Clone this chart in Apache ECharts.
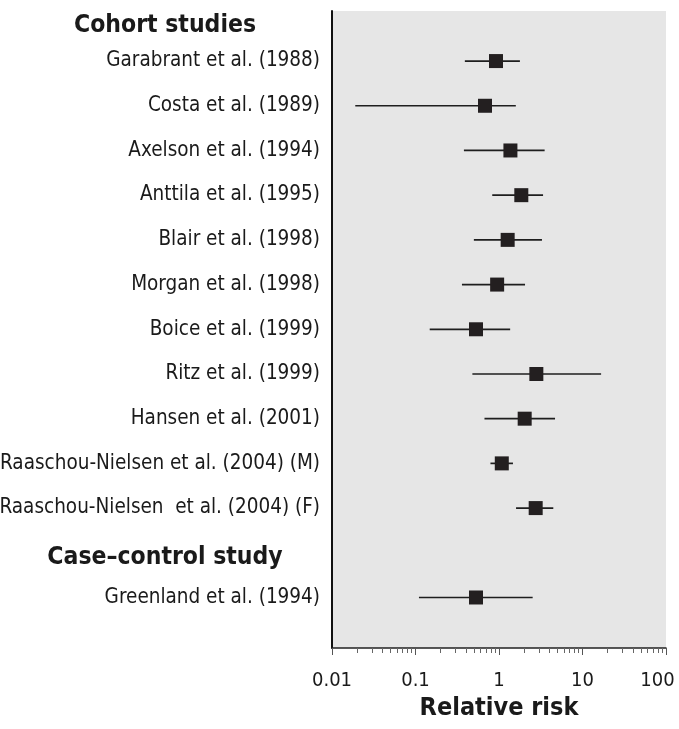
<!DOCTYPE html>
<html>
<head>
<meta charset="utf-8">
<script src="https://cdn.jsdelivr.net/npm/echarts@6/dist/echarts.min.js"></script>
<style>html,body{margin:0;padding:0;background:#fff}#c{width:679px;height:729px}</style>
</head>
<body>
<div id="c"></div>
<script>
const studies = [
  "Garabrant et al. (1988)",
  "Costa et al. (1989)",
  "Axelson et al. (1994)",
  "Anttila et al. (1995)",
  "Blair et al. (1998)",
  "Morgan et al. (1998)",
  "Boice et al. (1999)",
  "Ritz et al. (1999)",
  "Hansen et al. (2001)",
  "Raaschou-Nielsen et al. (2004) (M)",
  "Raaschou-Nielsen  et al. (2004) (F)",
  "Greenland et al. (1994)"
];
const rows = [1, 2, 3, 4, 5, 6, 7, 8, 9, 10, 11, 13];
const rr    = [0.92, 0.68, 1.37, 1.85, 1.27, 0.95, 0.53, 2.80, 2.03, 1.08, 2.75, 0.53];
const lower = [0.39, 0.019, 0.38, 0.83, 0.50, 0.36, 0.148, 0.48, 0.67, 0.79, 1.60, 0.11];
const upper = [1.78, 1.59, 3.52, 3.37, 3.27, 2.05, 1.36, 16.7, 4.69, 1.47, 4.47, 2.53];
const headings = ["Cohort studies", "Case\u2013control study"];
const headingRows = [0, 12];
const majorTicks = [0.01, 0.1, 1, 10, 100];
const minorTicks = [0.02,0.03,0.04,0.05,0.06,0.07,0.08,0.09,
                    0.2,0.3,0.4,0.5,0.6,0.7,0.8,0.9,
                    2,3,4,5,6,7,8,9,
                    20,30,40,50,60,70,80,90];

const FONT = "'Liberation Sans Narrow', 'DejaVu Sans Condensed', 'Roboto Condensed', Roboto, sans-serif";
const TXT = '#1a1a1a';

const chart = echarts.init(document.getElementById('c'), null, {renderer: 'canvas'});
const ciData = rows.map((r, i) => [lower[i], upper[i], rr[i], r]);
const headingOffsets = [[-167, 9], [-167, 5]];
chart.setOption({
  animation: false,
  backgroundColor: '#fff',
  grid: {left: 332, right: 13, top: 11, bottom: 81, show: true, backgroundColor: '#e6e6e6', borderWidth: 0,
         outerBoundsMode: 'none', containLabel: false},
  xAxis: [{
    type: 'log', logBase: 10, min: 0.01, max: 100, position: 'bottom',
    axisLine: {show: true, onZero: false, lineStyle: {color: '#222', width: 1.5}},
    axisTick: {show: true, length: 7, lineStyle: {color: '#555', width: 1}},
    axisLabel: {fontSize: 20, color: TXT, fontFamily: FONT, margin: 23,
      formatter: v => (v === majorTicks[majorTicks.length - 1] ? String(v) + '\u00a0\u00a0\u00a0' : String(v))},
    splitLine: {show: false},
    name: 'Relative risk', nameLocation: 'middle', nameGap: 43,
    nameTextStyle: {fontSize: 25, fontWeight: 'bold', color: TXT, fontFamily: FONT}
  }, {
    type: 'value', min: -2, max: 2, position: 'top', offset: -637,
    axisLine: {show: false},
    axisTick: {show: true, inside: true, length: 5, customValues: minorTicks.map(v => Math.log10(v)), lineStyle: {color: '#666', width: 1}},
    axisLabel: {show: false},
    splitLine: {show: false}
  }],
  yAxis: {
    type: 'value', inverse: true, min: -0.12, max: 14.13,
    axisLine: {show: true, onZero: false, lineStyle: {color: '#111', width: 2}},
    axisTick: {show: false}, axisLabel: {show: false}, splitLine: {show: false}
  },
  series: [{
    type: 'custom',
    xAxisIndex: 0,
    data: ciData,
    renderItem: function (params, api) {
      const lo = api.coord([api.value(0), api.value(3)]);
      const hi = api.coord([api.value(1), api.value(3)]);
      const c = api.coord([api.value(2), api.value(3)]);
      const s = 14;
      return {type: 'group', children: [
        {type: 'line', shape: {x1: lo[0], y1: lo[1], x2: hi[0], y2: hi[1]}, style: {stroke: '#1e1e1e', lineWidth: 1.7}},
        {type: 'rect', shape: {x: c[0] - s/2, y: c[1] - s/2, width: s, height: s}, style: {fill: '#231f20'}}
      ]};
    },
    encode: {x: [0, 1, 2], y: 3}
  }, {
    type: 'scatter', xAxisIndex: 0, symbolSize: 0,
    data: rows.map((r, i) => ({value: [0.01, r], name: studies[i]})),
    itemStyle: {opacity: 1},
    label: {show: true, position: 'left', distance: 12, formatter: p => p.name,
      fontSize: 20.5, color: TXT, opacity: 1, textBorderWidth: 0, fontFamily: FONT},
    silent: true
  }, {
    type: 'scatter', xAxisIndex: 0, symbolSize: 0,
    data: headingRows.map((r, i) => ({value: [0.01, r], name: headings[i], label: {offset: headingOffsets[i]}})),
    label: {show: true, position: 'inside', align: 'center', formatter: p => p.name,
      fontSize: 24.5, fontWeight: 'bold', color: TXT, opacity: 1, textBorderWidth: 0, fontFamily: FONT},
    silent: true
  }]
});
</script>
</body>
</html>
